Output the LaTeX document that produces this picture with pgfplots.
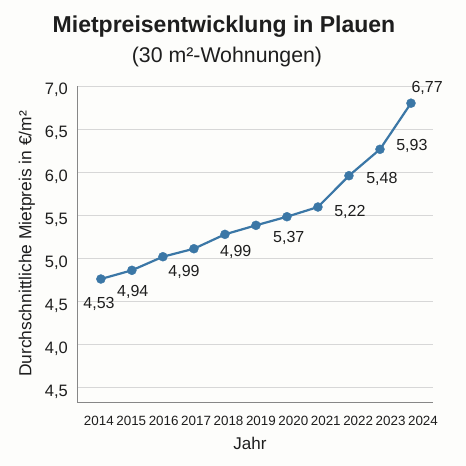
\documentclass[border=0pt]{standalone}
\usepackage{pgfplots}
\pgfplotsset{compat=1.18}
\usepackage{fontspec}
\setmainfont{Liberation Sans}
\definecolor{lineblue}{RGB}{59,119,166}
\definecolor{gridgray}{RGB}{215,215,215}
\definecolor{axisgray}{RGB}{135,135,135}
\definecolor{txt}{RGB}{30,30,30}
\definecolor{bg}{RGB}{253,253,251}
\begin{document}
\begin{tikzpicture}[x=1pt,y=1pt]
\path[fill=bg] (0,0) rectangle (466,466);
\node[anchor=base, font=\bfseries\fontsize{23}{26}\selectfont, text=txt] at (224,433) {Mietpreisentwicklung in Plauen};
\node[anchor=base, font=\fontsize{21.3}{24}\selectfont, text=txt] at (227,403) {(30 m²-Wohnungen)};
\begin{axis}[
  at={(77pt,64pt)}, anchor=south west,
  scale only axis, width=356pt, height=316pt,
  xmin=2013.23, xmax=2024.71, ymin=3.326, ymax=7.0,
  axis x line*=bottom, axis y line*=left,
  axis line style={axisgray, line width=0.8pt},
  clip=false,
  ytick={3.5,4,4.5,5,5.5,6,6.5,7},
  yticklabels={{4,5},{4,0},{4,5},{5,0},{5,5},{6,0},{6,5},{7,0}},
  xtick={2013.935,2014.980,2016.025,2017.071,2018.116,2019.161,2020.206,2021.252,2022.297,2023.342,2024.387},
  xticklabels={2014,2015,2016,2017,2018,2019,2020,2021,2022,2023,2024},
  major tick length=0pt,
  ymajorgrids,
  grid style={gridgray, line width=0.8pt},
  xticklabel style={anchor=base, yshift=-24pt, inner sep=0pt, font=\fontsize{13.4}{16}\selectfont, text=txt},
  yticklabel style={anchor=base east, xshift=-9pt, yshift=-9pt, inner sep=0pt, font=\fontsize{16.5}{18}\selectfont, text=txt},
]
\addplot[lineblue, line width=2.2pt, mark=*, mark size=4.5pt, mark options={solid, fill=lineblue, draw=lineblue, line width=0.4pt}]
  coordinates {(2014,4.756)(2015,4.857)(2016,5.015)(2017,5.108)(2018,5.275)(2019,5.380)(2020,5.48)(2021,5.593)(2022,5.957)(2023,6.264)(2024,6.80)};
\begin{scope}[every node/.style={font=\fontsize{16}{18}\selectfont, text=txt, inner sep=0pt}]
\node at (axis cs:2013.94,4.465) {4,53};
\node at (axis cs:2015.03,4.605) {4,94};
\node at (axis cs:2016.68,4.837) {4,99};
\node at (axis cs:2018.35,5.07) {4,99};
\node at (axis cs:2020.06,5.233) {5,37};
\node at (axis cs:2022.03,5.535) {5,22};
\node at (axis cs:2023.06,5.919) {5,48};
\node at (axis cs:2024.03,6.302) {5,93};
\node at (axis cs:2024.52,6.977) {6,77};
\end{scope}
\end{axis}
\node[rotate=90, font=\fontsize{17.4}{20}\selectfont, text=txt] at (27,222) {Durchschnittliche Mietpreis in €/m²};
\node[font=\fontsize{17}{20}\selectfont, text=txt] at (250,23) {Jahr};
\end{tikzpicture}
\end{document}
